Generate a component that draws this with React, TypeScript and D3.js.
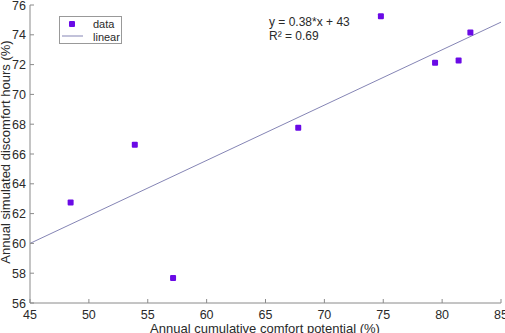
import React from "react";
import * as d3 from "d3";

// Scatter of comfort potential vs discomfort hours with a linear fit.
const comfortPotential = [48.45, 53.9, 57.15, 67.78, 74.8, 79.4, 81.4, 82.4];
const discomfortHours = [62.75, 66.62, 57.68, 67.77, 75.24, 72.13, 72.28, 74.16];
const fitX = [45, 85];
const fitY = [60.0, 74.85];
const xTicks = [45, 50, 55, 60, 65, 70, 75, 80, 85];
const yTicks = [56, 58, 60, 62, 64, 66, 68, 70, 72, 74, 76];
const legendLabels = ["data", "linear"];
const equationLines = ["y = 0.38*x + 43", "R² = 0.69"];

const W = 505;
const H = 333;
const margin = { top: 5, right: 4, bottom: 30, left: 30 };
const font = "'Liberation Sans', Arial, sans-serif";
const axisColor = "#8a8a8a";
const textColor = "#2a2a2a";
const markColor = "#6a0ae6";
const lineColor = "#8585b5";

export default function App() {
  const x = d3.scaleLinear().domain([45, 85]).range([margin.left, W - margin.right]);
  const y = d3.scaleLinear().domain([56, 76]).range([H - margin.bottom, margin.top]);
  const line = d3
    .line<number>()
    .x((d) => x(d))
    .y((_, i) => y(fitY[i]));

  const x0 = x.range()[0];
  const y0 = y.range()[0];

  return (
    <svg
      width={W}
      height={H}
      style={{ position: "absolute", left: 0, top: 0, background: "#fff" }}
      fontFamily={font}
    >
      {/* fit line */}
      <path d={line(fitX) || ""} fill="none" stroke={lineColor} strokeWidth={1} />

      {/* points */}
      {comfortPotential.map((cx, i) => (
        <rect
          key={i}
          x={x(cx) - 3}
          y={y(discomfortHours[i]) - 3}
          width={6}
          height={6}
          rx={1}
          fill={markColor}
        />
      ))}

      {/* axes */}
      <line x1={x0} x2={x.range()[1]} y1={y0} y2={y0} stroke={axisColor} />
      <line x1={x0} x2={x0} y1={y0} y2={y.range()[1]} stroke={axisColor} />
      {xTicks.map((t) => (
        <g key={t}>
          <line x1={x(t)} x2={x(t)} y1={y0} y2={y0 - 4} stroke={axisColor} />
          <text x={x(t)} y={y0 + 16} textAnchor="middle" fontSize={12.5} fill={textColor}>
            {t}
          </text>
        </g>
      ))}
      {yTicks.map((t) => (
        <g key={t}>
          <line x1={x0} x2={x0 + 4} y1={y(t)} y2={y(t)} stroke={axisColor} />
          <text x={x0 - 4} y={y(t) + 4.5} textAnchor="end" fontSize={12.5} fill={textColor}>
            {t}
          </text>
        </g>
      ))}

      {/* axis titles */}
      <text x={265} y={333} textAnchor="middle" fontSize={13} fill={textColor}>
        Annual cumulative comfort potential (%)
      </text>
      <text
        transform="translate(10,152) rotate(-90)"
        textAnchor="middle"
        fontSize={13}
        fill={textColor}
      >
        Annual simulated discomfort hours (%)
      </text>

      {/* legend */}
      <rect x={59.5} y={16.5} width={62} height={27} fill="#fff" stroke="#999" />
      <rect x={69} y={21} width={6} height={6} rx={1} fill={markColor} />
      <line x1={62} x2={83} y1={36} y2={36} stroke={lineColor} />
      {legendLabels.map((l, i) => (
        <text key={l} x={93} y={28 + i * 12.5} fontSize={11} fill={textColor}>
          {l}
        </text>
      ))}

      {/* fit equation */}
      {equationLines.map((l, i) => (
        <text key={l} x={269} y={26 + i * 14} fontSize={12} fill={textColor}>
          {l}
        </text>
      ))}
    </svg>
  );
}
